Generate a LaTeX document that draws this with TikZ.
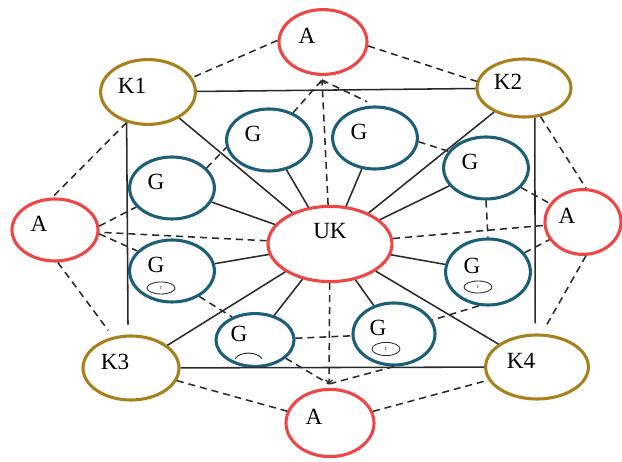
\documentclass[tikz,border=0pt]{standalone}
\usepackage{fontspec}
\setmainfont{Liberation Serif}
\usetikzlibrary{shapes.geometric}
\definecolor{ared}{HTML}{F04545}
\definecolor{kgold}{HTML}{A8801E}
\definecolor{gteal}{HTML}{1D5F78}
\definecolor{lnk}{HTML}{2A2A2A}
\begin{document}
\begin{tikzpicture}[
		every node/.style={ellipse, inner sep=0pt},
		anode/.style={draw=ared, line width=2.2pt},
		knode/.style={draw=kgold, line width=2.2pt},
		gnode/.style={draw=gteal, line width=2.2pt, minimum width=2.12cm, minimum height=1.55cm},
		tinyell/.style={draw=lnk, line width=0.6pt, minimum width=0.7cm, minimum height=0.3cm, font=\fontsize{4}{4}\selectfont},
		lbl/.style={font=\fontsize{16.5}{19}\selectfont, xshift=-0.4cm, yshift=0.15cm},
		link/.style={draw=lnk, line width=1.1pt},
		dlink/.style={link, dash pattern=on 5pt off 3.5pt}
	]
	\useasboundingbox (0,0) rectangle (15.55,11.55);

	% A
	\node[anode, minimum width=2.2cm, minimum height=1.62cm, label={[lbl]center:A}] (aN) at (8.075,10.5) {};
	\node[anode, minimum width=2.15cm, minimum height=1.55cm, label={[lbl]center:A}] (aW) at (1.375,5.8) {};
	\node[anode, minimum width=1.9cm, minimum height=1.62cm, label={[lbl]center:A}] (aE) at (14.575,6.0) {};
	\node[anode, minimum width=2.2cm, minimum height=1.68cm, label={[lbl]center:A}] (aS) at (8.25,0.975) {};

	% K
	\node[knode, minimum width=2.37cm, minimum height=1.62cm, label={[lbl]center:K1}] (k1) at (3.7,9.25) {};
	\node[knode, minimum width=2.35cm, minimum height=1.45cm, label={[lbl]center:K2}] (k2) at (13.1,9.35) {};
	\node[knode, minimum width=2.4cm, minimum height=1.6cm, label={[lbl]center:K3}] (k3) at (3.275,2.35) {};
	\node[knode, minimum width=2.57cm, minimum height=1.6cm, label={[lbl]center:K4}] (k4) at (13.425,2.375) {};

	\node[anode, minimum width=3.1cm, minimum height=1.88cm,
		label={[font=\fontsize{16.5}{19}\selectfont, yshift=0.32cm]center:UK}] (uk) at (8.25,5.45) {};

	% G
	\node[gnode, label={[lbl]center:G}] (g1) at (6.725,8.05) {};
	\node[gnode, label={[lbl]center:G}] (g2) at (9.375,8.1) {};
	\node[gnode, label={[lbl]center:G}] (g3) at (12.15,7.35) {};
	\node[gnode, label={[lbl]center:G}] (g4) at (4.3,6.85) {};
	\node[gnode, label={[lbl]center:G}] (g5) at (4.3,4.775) {};
	\node[gnode, minimum height=1.65cm, label={[lbl]center:G}] (g6) at (12.2,4.75) {};
	\node[gnode, minimum width=1.95cm, minimum height=1.32cm, label={[lbl]center:G}] (g7) at (6.375,3.05) {};
	\node[gnode, minimum width=2.05cm, label={[lbl]center:G}] (g8) at (9.85,3.2) {};

	\node[tinyell] (s5) at (4.025,4.35) {r};
	\node[tinyell] (s6) at (11.95,4.375) {r};
	\node[tinyell, minimum height=0.33cm] (s8) at (9.65,2.825) {r};
	\draw[lnk, line width=0.7pt] (5.875,2.58) .. controls (6.0,2.77) and (6.42,2.77) .. (6.55,2.58);

	\coordinate (tipN) at (8.05,9.55);
	\coordinate (tipS) at (8.225,1.95);

	% solid
	\draw[link] (k1) -- (k2);
	\draw[link, shorten >=0.25cm] (k1.235) -- (k3.95);
	\draw[link, shorten >=0.25cm] (k2.290) -- (k4.93);
	\draw[link] (k3) -- (k4);
	\foreach \n in {k1,k2,k3,k4,g1,g2,g3,g4,g5,g6,g7,g8}
		\draw[link] (uk) -- (\n);

	% dashed
	\draw[dlink] (aN.178) -- (k1.18);
	\draw[dlink] (aN.-5) -- (k2.172);
	\draw[dlink] (k1.235) -- (aW.95);
	\draw[dlink, shorten >=0.2cm] (aW.275) -- (k3.120);
	\draw[dlink] (k2.300) -- (aE.85);
	\draw[dlink, shorten >=0.25cm] (aE.275) -- (k4.82);
	\draw[dlink] (k3) -- (aS);
	\draw[dlink] (aS) -- (k4);

	\draw[dlink] (uk) -- (aW);
	\draw[dlink] (uk) -- (aE);
	\draw[dlink, ->] (uk) -- (tipN);
	\draw[dlink, ->] (uk) -- (tipS);

	\draw[dlink] (g1) -- (tipN);
	\draw[dlink, shorten >=0.22cm] (tipN) -- (g2.north);
	\draw[dlink] (g7) -- (tipS);
	\draw[dlink] (g8.south) -- (tipS);
	\draw[dlink] (g4.30) -- (g1.190);
	\draw[dlink] (g2.-5) -- (g3.156);
	\draw[dlink] (g3.south) -- (g6.north);
	\draw[dlink] (g3) -- (aE);
	\draw[dlink] (g6) -- (aE);
	\draw[dlink] (g6.255) -- (g8.20);
	\draw[dlink] (g7) -- (g8);
	\draw[dlink] (g5.-43) -- (g7.135);
	\draw[dlink] (aW.5) -- (g4.208);
	\draw[dlink] (aW.-5) -- (g5.150);
\end{tikzpicture}
\end{document}
